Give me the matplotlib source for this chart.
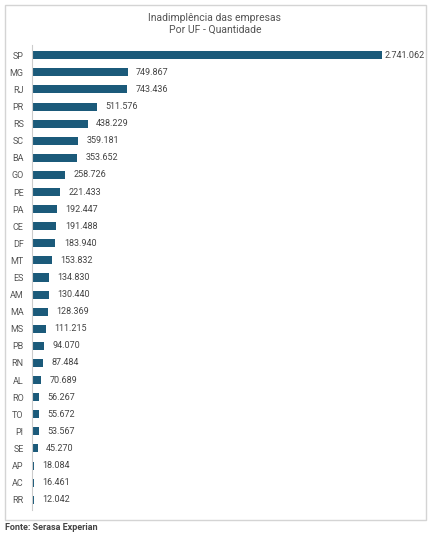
import matplotlib.pyplot as plt
from matplotlib.patches import Rectangle

plt.rcParams['font.family'] = ['Roboto', 'DejaVu Sans']

states = ['SP', 'MG', 'RJ', 'PR', 'RS', 'SC', 'BA', 'GO', 'PE', 'PA', 'CE', 'DF', 'MT',
          'ES', 'AM', 'MA', 'MS', 'PB', 'RN', 'AL', 'RO', 'TO', 'PI', 'SE', 'AP', 'AC', 'RR']
values = [2741062, 749867, 743436, 511576, 438229, 359181, 353652, 258726, 221433,
          192447, 191488, 183940, 153832, 134830, 130440, 128369, 111215, 94070,
          87484, 70689, 56267, 55672, 53567, 45270, 18084, 16461, 12042]

title = 'Inadimplência das empresas\nPor UF - Quantidade'
source = 'Fonte: Serasa Experian'


def fmt(v):
    return f'{v:,}'.replace(',', '.')


W, H = 430, 535
fig = plt.figure(figsize=(W / 100, H / 100), dpi=100)

# outer frame
fig.patches.append(Rectangle((5 / W, 1 - 520 / H), 421 / W, 515 / H, transform=fig.transFigure,
                             fill=False, edgecolor='#d4d4d4', linewidth=1))

ax = fig.add_axes([32 / W, 1 - 510 / H, 388 / W, 465 / H])
n = len(states)
pos = list(range(n))
ax.barh(pos, values, height=0.47, color='#1b5a7a')
ax.set_ylim(n - 0.4, -0.6)
ax.set_xlim(0, max(values) * 388 / 350)
ax.set_yticks(pos)
ax.set_yticklabels(states, fontsize=6.5, color='#555555')
ax.tick_params(axis='y', length=0, pad=6)
ax.set_xticks([])
for s in ['top', 'right', 'bottom']:
    ax.spines[s].set_visible(False)
ax.spines['left'].set_color('#cccccc')

for i, v in enumerate(values):
    off = 1.5 if i == 0 else 6
    ax.annotate(fmt(v), (v, i), xytext=(off, 0), textcoords='offset points',
                va='center', ha='left', fontsize=6.5, color='#444444')

fig.text(215 / W, 1 - 24 / H, title, ha='center', va='center', fontsize=7.5,
         color='#555555', linespacing=1.3)
fig.text(5 / W, 1 - 527 / H, source, ha='left', va='center', fontsize=6.5,
         color='#444444', fontweight='bold')

fig.savefig('out.png', dpi=100)
